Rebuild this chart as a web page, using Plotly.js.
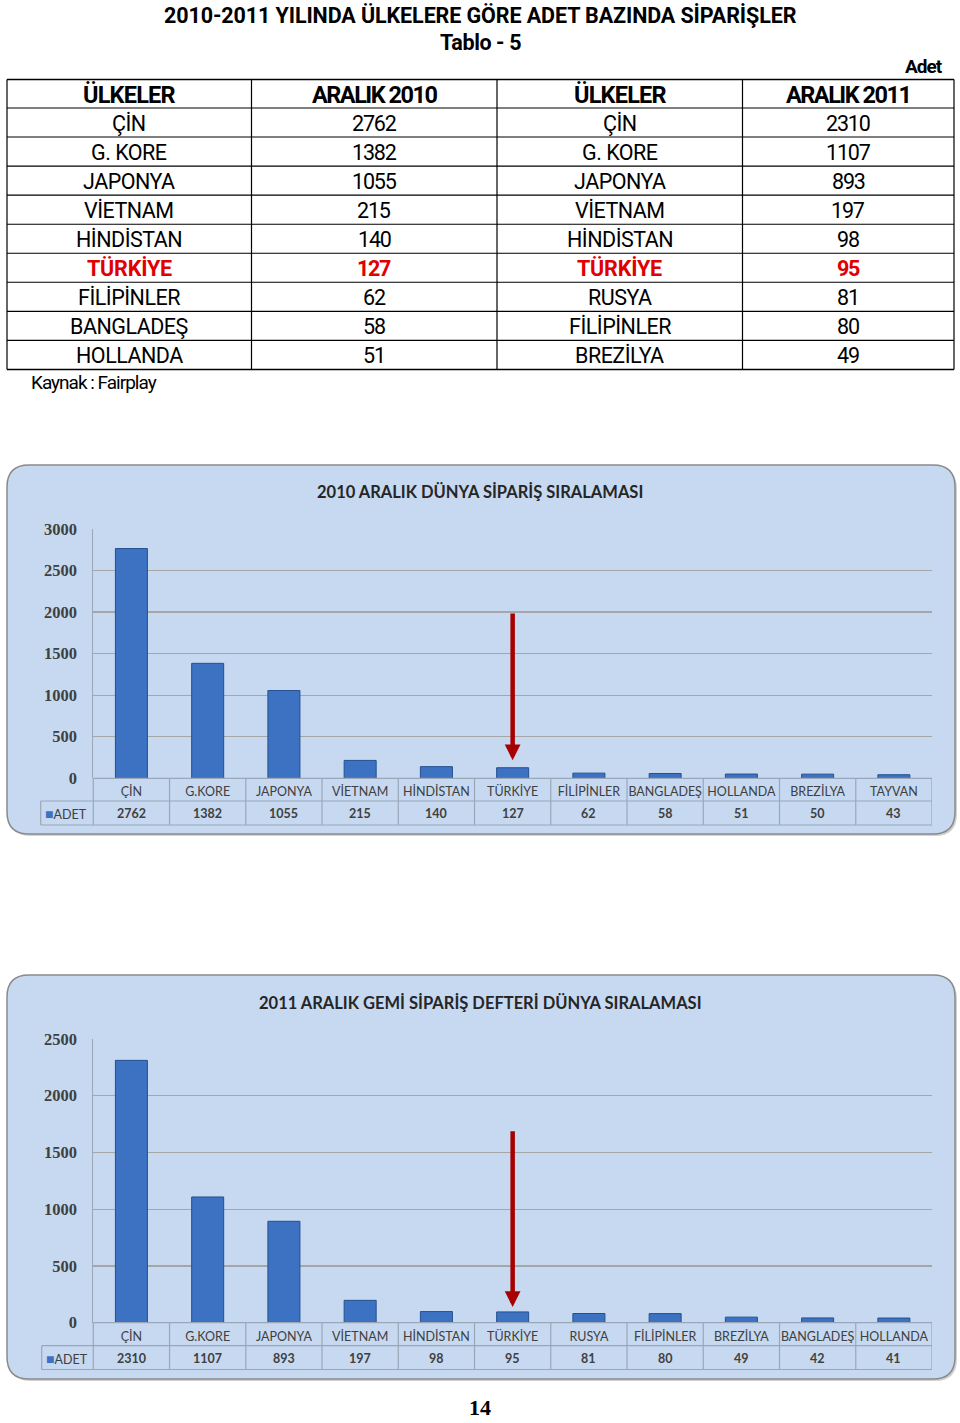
<!DOCTYPE html>
<html><head><meta charset="utf-8">
<script src="https://cdn.plot.ly/plotly-3.0.1.min.js"></script>
<style>html,body{margin:0;padding:0;background:#fff;}#page{width:960px;height:1423px;}</style>
</head><body><div id="page"></div>
<script>
// ---------- DATA ----------
const pageTitle = "2010-2011 YILINDA ÜLKELERE GÖRE ADET BAZINDA SİPARİŞLER";
const tableTitle = "Tablo - 5";
const unitLabel = "Adet";
const sourceLabel = "Kaynak : Fairplay";
const tableHeaders = ["ÜLKELER", "ARALIK 2010", "ÜLKELER", "ARALIK 2011"];
const tableCountries2010 = ["ÇİN","G. KORE","JAPONYA","VİETNAM","HİNDİSTAN","TÜRKİYE","FİLİPİNLER","BANGLADEŞ","HOLLANDA"];
const tableValues2010 = [2762,1382,1055,215,140,127,62,58,51];
const tableCountries2011 = ["ÇİN","G. KORE","JAPONYA","VİETNAM","HİNDİSTAN","TÜRKİYE","RUSYA","FİLİPİNLER","BREZİLYA"];
const tableValues2011 = [2310,1107,893,197,98,95,81,80,49];
const highlightCountry = "TÜRKİYE";

const chart1Title = "2010 ARALIK DÜNYA SİPARİŞ SIRALAMASI";
const chart1Categories = ["ÇİN","G.KORE","JAPONYA","VİETNAM","HİNDİSTAN","TÜRKİYE","FİLİPİNLER","BANGLADEŞ","HOLLANDA","BREZİLYA","TAYVAN"];
const chart1Values = [2762,1382,1055,215,140,127,62,58,51,50,43];
const chart2Title = "2011 ARALIK GEMİ SİPARİŞ DEFTERİ DÜNYA SIRALAMASI";
const chart2Categories = ["ÇİN","G.KORE","JAPONYA","VİETNAM","HİNDİSTAN","TÜRKİYE","RUSYA","FİLİPİNLER","BREZİLYA","BANGLADEŞ","HOLLANDA"];
const chart2Values = [2310,1107,893,197,98,95,81,80,49,42,41];
const seriesName = "ADET";
const pageNumber = "14";

// ---------- LAYOUT HELPERS ----------
const W = 960, H = 1423;
const px = x => x / W;
const py = y => 1 - y / H;
const narrow = "Roboto,'Liberation Sans',sans-serif";
const chartFont = "Lato,'Open Sans',sans-serif";
const serif = "'Liberation Serif','DejaVu Serif',serif";

const shapes = [];
const annotations = [];

function line(x0, y0, x1, y1, color, width) {
  shapes.push({type:'line', xref:'paper', yref:'paper', x0:px(x0), y0:py(y0), x1:px(x1), y1:py(y1),
    line:{color:color, width:width}, layer:'above'});
}
function squeeze(t, ls) {
  return '<span style="letter-spacing:' + ls + 'px">' + t + '</span>';
}
function text(t, x, y, size, opts) {
  opts = opts || {};
  annotations.push({xref:'paper', yref:'paper', x:px(x), y:py(y), text:t, showarrow:false,
    xanchor:opts.xanchor || 'center', yanchor:opts.yanchor || 'middle', borderpad:0,
    font:{family:opts.family || narrow, size:size, color:opts.color || '#000'}});
}
function roundRect(x0, y0, x1, y1, r) {
  const P = (x, y) => px(x) + ',' + py(y);
  return 'M' + P(x0 + r, y0) + ' L' + P(x1 - r, y0) + ' Q' + P(x1, y0) + ' ' + P(x1, y0 + r) +
    ' L' + P(x1, y1 - r) + ' Q' + P(x1, y1) + ' ' + P(x1 - r, y1) +
    ' L' + P(x0 + r, y1) + ' Q' + P(x0, y1) + ' ' + P(x0, y1 - r) +
    ' L' + P(x0, y0 + r) + ' Q' + P(x0, y0) + ' ' + P(x0 + r, y0) + ' Z';
}

// ---------- PAGE HEADER + TABLE ----------
text('<b>' + squeeze(pageTitle, -0.1) + '</b>', 480, 15, 21.5);
text('<b>' + squeeze(tableTitle, -0.4) + '</b>', 480, 43, 21.5);
text('<b>' + squeeze(unitLabel, -1) + '</b>', 944, 67, 19, {xanchor:'right'});

const colEdges = [7, 251.5, 497, 742.5, 954];
const rowEdges = [79.5, 108];
for (let i = 0; i < tableCountries2010.length; i++) rowEdges.push(108 + (i + 1) * 29.05);
rowEdges.forEach((y, i) => line(colEdges[0], y, colEdges[4], y, '#000', (i === 0 || i === rowEdges.length - 1) ? 1.6 : 1.1));
colEdges.forEach(x => line(x, rowEdges[0], x, rowEdges[rowEdges.length - 1], '#000', 1.2));
const colCenter = c => (colEdges[c] + colEdges[c + 1]) / 2;
const rowCenter = r => (rowEdges[r] + rowEdges[r + 1]) / 2 + 1;
tableHeaders.forEach((h, c) => text('<b>' + squeeze(h, c % 2 ? -1.5 : -0.8) + '</b>', colCenter(c), rowCenter(0), 23.5));
const tableCols = [tableCountries2010, tableValues2010, tableCountries2011, tableValues2011];
for (let r = 0; r < tableCountries2010.length; r++) {
  const hl1 = tableCountries2010[r] === highlightCountry;
  const hl2 = tableCountries2011[r] === highlightCountry;
  tableCols.forEach((col, c) => {
    const hl = c < 2 ? hl1 : hl2;
    const isNum = c % 2 === 1;
    const t = String(col[r]);
    const ls = isNum ? (hl ? -1.3 : -1.2) : (hl ? -0.2 : -0.5);
    text(hl ? '<b>' + squeeze(t, ls) + '</b>' : squeeze(t, ls), colCenter(c), rowCenter(r + 1), 21.5,
      {color: hl ? '#e00000' : '#000'});
  });
}
text(squeeze(sourceLabel, -1), 30, 383, 19, {xanchor:'left'});
text('<b>' + pageNumber + '</b>', 480, 1421, 22, {family:serif, yanchor:'bottom'});

// ---------- CHARTS ----------
const boxFill = '#c6d9f1';
const gridCol = '#a6a6a6';
const cellLine = '#9aa7b8';
const barColor = '#3d72c3';

const charts = [
  {title:chart1Title, cats:chart1Categories, vals:chart1Values, xa:'x', ya:'y',
   box:[7,465,955,834], titleY:492, plot:[93.3,528.5,932,778.3], rowMid:801, rowBot:825, legendX:40.7,
   yRange:[0,3000], arrowTop:2000, arrowTip:216},
  {title:chart2Title, cats:chart2Categories, vals:chart2Values, xa:'x2', ya:'y2',
   box:[7,975,955,1379], titleY:1003, plot:[93.3,1038.5,932,1322.7], rowMid:1345.7, rowBot:1369.5, legendX:41.7,
   yRange:[0,2500], arrowTop:1700, arrowTip:138}
];

const data = [];
const layout = {
  width:W, height:H, margin:{l:0,r:0,t:0,b:0}, paper_bgcolor:'#fff', plot_bgcolor:'#fff',
  showlegend:false, bargap:0.58, shapes:shapes, annotations:annotations
};

charts.forEach((ch, k) => {
  const [bx0, by0, bx1, by1] = ch.box;
  shapes.push({type:'path', xref:'paper', yref:'paper', path:roundRect(bx0 + 2, by0 + 2, bx1 + 2, by1 + 2, 22),
    fillcolor:'rgba(0,0,0,0.18)', line:{width:0}, layer:'below'});
  shapes.push({type:'path', xref:'paper', yref:'paper', path:roundRect(bx0, by0, bx1, by1, 22),
    fillcolor:boxFill, line:{color:'#8a8a8a', width:1.5}, layer:'below'});
  text('<b>' + ch.title + '</b>', 480, ch.titleY, 16.5, {family:chartFont, color:'#262626'});

  const [x0, yTop, x1, yBot] = ch.plot;
  const xName = k === 0 ? 'xaxis' : 'xaxis2';
  const yName = k === 0 ? 'yaxis' : 'yaxis2';
  layout[xName] = {domain:[px(x0), px(x1)], anchor:ch.ya, type:'category', range:[-0.5, ch.cats.length - 0.5],
    showgrid:false, zeroline:false, showline:false, ticks:'outside', ticklen:2, tickcolor:'rgba(0,0,0,0)',
    tickfont:{family:chartFont, size:12.5, color:'#404040'}, fixedrange:true};
  layout[yName] = {domain:[py(yBot), py(yTop)], anchor:ch.xa, range:[ch.yRange[0], ch.yRange[1] * 1.001], dtick:500, tick0:0,
    showgrid:true, gridcolor:gridCol, gridwidth:1.2, zeroline:false, showline:true, linecolor:cellLine, linewidth:1,
    ticks:'outside', ticklen:12, tickcolor:'rgba(0,0,0,0)',
    tickfont:{family:serif, size:16.5, color:'#404040', weight:'bold'}, fixedrange:true};

  data.push({type:'bar', x:ch.cats, y:ch.vals, xaxis:ch.xa, yaxis:ch.ya, name:seriesName,
    marker:{color:barColor, line:{color:'#24508f', width:1}}, hoverinfo:'x+y'});

  const n = ch.cats.length;
  line(x0, yBot, x1, yBot, cellLine, 1.2);
  line(ch.legendX, ch.rowMid, x1, ch.rowMid, cellLine, 1.2);
  line(ch.legendX, ch.rowBot, x1, ch.rowBot, cellLine, 1.2);
  line(ch.legendX, ch.rowMid, ch.legendX, ch.rowBot, cellLine, 1.2);
  line(x0, yBot, x0, ch.rowBot, cellLine, 1.2);
  for (let i = 0; i < n; i++) {
    shapes.push({type:'line', xref:ch.xa, yref:'paper', x0:i + 0.5, x1:i + 0.5, y0:py(yBot), y1:py(ch.rowBot),
      line:{color:cellLine, width:1.2}, layer:'above'});
    annotations.push({xref:ch.xa, yref:'paper', x:i, y:py((ch.rowMid + ch.rowBot) / 2 + 0.5), text:'<b>' + ch.vals[i] + '</b>',
      showarrow:false, xanchor:'center', yanchor:'middle', font:{family:chartFont, size:12.5, color:'#404040'}});
  }
  annotations.push({xref:'paper', yref:'paper', x:px(ch.legendX + 2), y:py((ch.rowMid + ch.rowBot) / 2 + 0.5),
    text:'<span style="color:#3d72c3;font-size:14px">■</span>' + seriesName, showarrow:false, xanchor:'left', yanchor:'middle',
    font:{family:chartFont, size:12.5, color:'#404040'}});

  const hi = ch.cats.indexOf(highlightCountry);
  annotations.push({xref:ch.xa, yref:ch.ya, axref:ch.xa, ayref:ch.ya, x:hi, y:ch.arrowTip, ax:hi, ay:ch.arrowTop,
    text:'', showarrow:true, arrowhead:2, arrowsize:0.7, arrowwidth:4.5, arrowcolor:'#a80000'});
});

Plotly.newPlot('page', data, layout, {staticPlot:true, displayModeBar:false});
</script>
</body></html>
